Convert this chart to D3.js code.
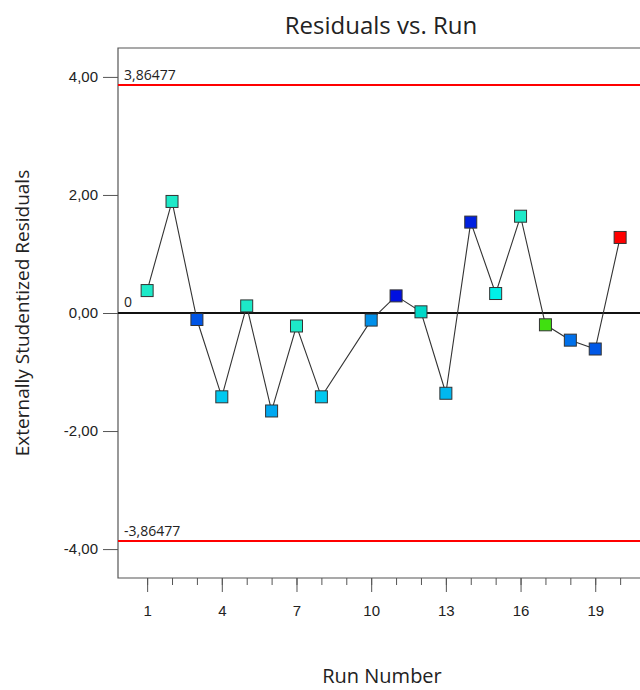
<!DOCTYPE html>
<html>
<head>
<meta charset="utf-8">
<script src="https://cdn.jsdelivr.net/npm/d3@7"></script>
<style>
  body { margin: 0; background: #fff; }
  svg { font-family: "Open Sans", "Noto Sans", sans-serif; display: block; }
</style>
</head>
<body>
<svg id="chart" width="640" height="690"></svg>
<script>
const runs = d3.range(1, 21);
const residuals = [0.38, 1.89, -0.11, -1.42, 0.12, -1.66, -0.22, -1.42, null, -0.12,
  0.29, 0.02, -1.36, 1.54, 0.33, 1.64, -0.20, -0.46, -0.61, 1.28];
const pointColors = ["#1de9c8", "#1de9c8", "#0055e6", "#00c8f0", "#1de9c8", "#00a8f0", "#1de9c8", "#00c8f0", null, "#0090ea",
  "#0010e0", "#00d8c8", "#00b8f0", "#0020e0", "#00f0e8", "#1de9c8", "#40e010", "#0070ea", "#0058e6", "#ff0000"];
const limit = 3.86477;
const yTicks = [-4, -2, 0, 2, 4];
const xTicks = [1, 4, 7, 10, 13, 16, 19];

const svg = d3.select("#chart");
const margin = { left: 118, top: 48, bottom: 578, right: 650 };

const x = d3.scaleLinear().domain([-0.17, 21.2]).range([margin.left, margin.right]);
const y = d3.scaleLinear().domain([-4.49, 4.49]).range([margin.bottom, margin.top]);

const locale = d3.formatLocale({ decimal: ",", thousands: ".", grouping: [3], currency: ["", ""], minus: "-" });
const fmt = locale.format(".2f");

// frame
svg.append("path")
  .attr("d", `M${margin.right},${margin.top}H${margin.left}V${margin.bottom}H${margin.right}`)
  .attr("fill", "none").attr("stroke", "#555").attr("stroke-width", 1.2);

// y axis
const yAxis = svg.append("g")
  .attr("transform", `translate(${margin.left},0)`)
  .call(d3.axisLeft(y).tickValues(yTicks).tickSize(15).tickPadding(5).tickFormat(fmt));
yAxis.select(".domain").remove();
yAxis.selectAll("line").attr("stroke", "#555");
yAxis.selectAll("text").attr("font-size", 15).attr("fill", "#222");

// x axis: minor + major ticks
const xAxisMinor = svg.append("g")
  .attr("transform", `translate(0,${margin.bottom})`)
  .call(d3.axisBottom(x).tickValues(runs).tickSize(7).tickFormat(""));
xAxisMinor.select(".domain").remove();
xAxisMinor.selectAll("line").attr("stroke", "#555");

const xAxis = svg.append("g")
  .attr("transform", `translate(0,${margin.bottom})`)
  .call(d3.axisBottom(x).tickValues(xTicks).tickSize(14).tickPadding(13).tickFormat(d3.format("d")));
xAxis.select(".domain").remove();
xAxis.selectAll("line").attr("stroke", "#555");
xAxis.selectAll("text").attr("font-size", 15).attr("fill", "#222");

// limit lines
[limit, -limit].forEach(v => {
  svg.append("line")
    .attr("x1", margin.left).attr("x2", margin.right)
    .attr("y1", y(v)).attr("y2", y(v))
    .attr("stroke", "#ff0000").attr("stroke-width", 2);
  svg.append("text")
    .attr("x", margin.left + 6).attr("y", y(v) - 5)
    .attr("font-size", 14).attr("fill", "#222")
    .text(locale.format(".5f")(v));
});

// zero line
svg.append("line")
  .attr("x1", margin.left).attr("x2", margin.right)
  .attr("y1", y(0)).attr("y2", y(0))
  .attr("stroke", "#111").attr("stroke-width", 2);
svg.append("text")
  .attr("x", margin.left + 6).attr("y", y(0) - 6)
  .attr("font-size", 14).attr("fill", "#222").text("0");

const points = runs.map((r, i) => ({ run: r, value: residuals[i], color: pointColors[i] }))
  .filter(d => d.value !== null);

svg.append("path")
  .datum(points)
  .attr("fill", "none")
  .attr("stroke", "#333")
  .attr("stroke-width", 1.1)
  .attr("d", d3.line().x(d => x(d.run)).y(d => y(d.value)));

const size = 12;
svg.selectAll("rect.pt")
  .data(points)
  .join("rect")
  .attr("class", "pt")
  .attr("x", d => x(d.run) - size / 2)
  .attr("y", d => y(d.value) - size / 2)
  .attr("width", size).attr("height", size)
  .attr("fill", d => d.color)
  .attr("stroke", "#333").attr("stroke-width", 1);

// titles
svg.append("text")
  .attr("x", 381).attr("y", 34)
  .attr("text-anchor", "middle")
  .attr("font-size", 24).attr("fill", "#222")
  .text("Residuals vs. Run");

svg.append("text")
  .attr("x", 382).attr("y", 683)
  .attr("text-anchor", "middle")
  .attr("font-size", 20).attr("fill", "#222")
  .text("Run Number");

svg.append("text")
  .attr("transform", `translate(29,313) rotate(-90)`)
  .attr("text-anchor", "middle")
  .attr("font-size", 19).attr("fill", "#222")
  .text("Externally Studentized Residuals");
</script>
</body>
</html>
